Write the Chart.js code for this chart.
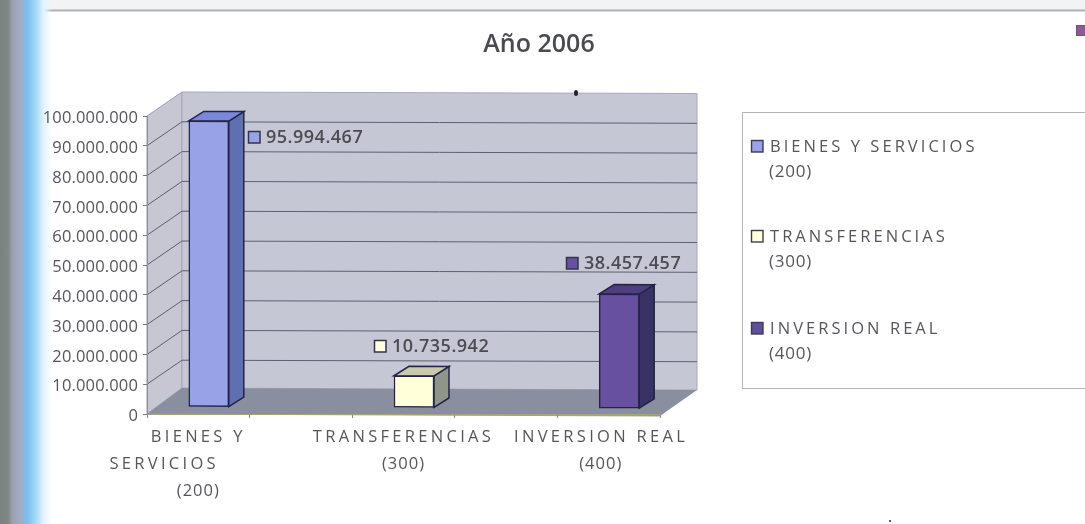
<!DOCTYPE html>
<html>
<head>
<meta charset="utf-8">
<script src="https://cdn.jsdelivr.net/npm/chart.js@4"></script>
<style>
html,body{margin:0;padding:0;width:1085px;height:524px;overflow:hidden}
body{background:
 linear-gradient(to right,#79827d 0,#7f8884 8px,#99a0ae 12px,#a2abc4 20px,#79bdf0 27px,#a5daf8 36px,#e4f5fd 44px,rgba(255,255,255,0) 52px),
 linear-gradient(to bottom,#f1f3f4 0,#f1f3f4 9px,#a9acb0 10px,#b5b7ba 11px,#fff 12px);}
canvas{display:block}
</style>
</head>
<body>
<canvas id="c" width="1085" height="524"></canvas>
<script>
const categories = ["BIENES Y SERVICIOS (200)", "", "TRANSFERENCIAS (300)", "", "INVERSION REAL (400)"];
const tickLabels = [["BIENES Y", "SERVICIOS         ", "(200)"], "", ["TRANSFERENCIAS", "(300)"], "", ["INVERSION REAL  ", "(400)   "]];
const values = [95994467, null, 10735942, null, 38457457];
const valueLabels = ["95.994.467", "", "10.735.942", "", "38.457.457"];
const yTickLabels = ["0","10.000.000","20.000.000","30.000.000","40.000.000","50.000.000","60.000.000","70.000.000","80.000.000","90.000.000","100.000.000"];
const legendNames = ["BIENES Y SERVICIOS", "TRANSFERENCIAS", "INVERSION REAL"];
const legendCodes = ["(200)", "(300)", "(400)"];
const titleText = "Año 2006";

const frontColors = ["#98a2e6", null, "#ffffd9", null, "#67509f"];
const topColors   = ["#7b87dc", null, "#c9caa9", null, "#4f3e80"];
const sideColors  = ["#5f70b2", null, "#90958a", null, "#393263"];
const legendKeyColors = ["#98a2e6", "#ffffd9", "#5f4f9a"];
const FONT = '"Open Sans", "Noto Sans", sans-serif';
const TEXT = "#55565c";
const EDGE = "#24244a";
const WALL = {dx: 35, dxRight: 37, dy: -24, tilt: 1.5};
const BAR_SHIFT = {dx: 10.5, dy: -7.2, shear: 0.004};
const DEPTH = {dx: 15, dy: -9.5};
const LABEL_POS = [{x: 248, y: 137}, null, {x: 374, y: 346}, null, {x: 566, y: 263}];

function poly(ctx, pts, fill, stroke, lw) {
  ctx.beginPath();
  pts.forEach((p, i) => i ? ctx.lineTo(p[0], p[1]) : ctx.moveTo(p[0], p[1]));
  ctx.closePath();
  if (fill) { ctx.fillStyle = fill; ctx.fill(); }
  if (stroke) { ctx.strokeStyle = stroke; ctx.lineWidth = lw || 1; ctx.stroke(); }
}

const scene = {
  id: "scene",
  afterLayout(chart) {
    const s = chart.scales.x, y = chart.scales.y, ctx = chart.ctx;
    if (!s._spaced) {
      s._spaced = true;
      const ox = s.drawLabels.bind(s), oy = y.drawLabels.bind(y);
      s.drawLabels = a => {
        const fill = ctx.fillText;
        ctx.fillText = function (t, px, py) {
          ctx.letterSpacing = t[0] === "(" ? "1px" : "3.3px";
          fill.call(ctx, t, px, py);
        };
        ox(a);
        delete ctx.fillText;
        ctx.letterSpacing = "0px";
      };
      y.drawLabels = a => {
        ctx.save();
        ctx.translate(0, 2.5);
        ctx.letterSpacing = "0.15px";
        oy(a);
        ctx.restore();
      };
    }
  },
  beforeDraw(chart) {
    const ctx = chart.ctx, a = chart.chartArea, y = chart.scales.y;
    const top = y.getPixelForValue(100000000), bot = y.getPixelForValue(0);
    const l = a.left, r = a.right, wl = l + WALL.dx, wr = r + WALL.dxRight;
    ctx.save();
    poly(ctx, [[l, top], [wl, top + WALL.dy], [wl, bot + WALL.dy - 2], [l, bot]], "#c6c7d3", "#9d9fb0", 1);
    poly(ctx, [[wl, top + WALL.dy], [wr, top + WALL.dy + WALL.tilt], [wr, bot + WALL.dy], [wl, bot + WALL.dy - 2]], "#c6c7d5", "#a5a8bd", 1);
    yTickLabels.forEach((_, i) => {
      if (i === 0 || i === 10) return;
      const py = y.getPixelForValue(i * 10000000);
      ctx.beginPath();
      ctx.moveTo(l, py); ctx.lineTo(wl, py + WALL.dy);
      ctx.lineTo(wr, py + WALL.dy + WALL.tilt);
      ctx.strokeStyle = "#5d6070"; ctx.lineWidth = 1; ctx.stroke();
    });
    poly(ctx, [[l, bot], [wl, bot + WALL.dy - 2], [wr, bot + WALL.dy], [r, bot + 2]], "#8a8f9f");
    ctx.beginPath(); ctx.moveTo(l, bot); ctx.lineTo(r, bot + 2);
    ctx.strokeStyle = "#a8a27c"; ctx.lineWidth = 1; ctx.stroke();
    ctx.restore();
  },
  beforeDatasetsDraw(chart) {
    const ctx = chart.ctx, a = chart.chartArea;
    ctx.save();
    ctx.transform(1, BAR_SHIFT.shear, 0, 1, BAR_SHIFT.dx, BAR_SHIFT.dy - a.left * BAR_SHIFT.shear);
    chart.getDatasetMeta(0).data.forEach((el, i) => {
      if (values[i] == null) return;
      const L = el.x - el.width / 2, R = el.x + el.width / 2, T = el.y, B = el.base;
      poly(ctx, [[R, T], [R + DEPTH.dx, T + DEPTH.dy], [R + DEPTH.dx, B + DEPTH.dy], [R, B]], sideColors[i], EDGE, 1.5);
      poly(ctx, [[L, T], [L + DEPTH.dx, T + DEPTH.dy], [R + DEPTH.dx, T + DEPTH.dy], [R, T]], topColors[i], EDGE, 1.5);
    });
  },
  afterDatasetsDraw(chart) {
    const ctx = chart.ctx;
    ctx.restore();
    ctx.save();
    ctx.textBaseline = "middle";
    ctx.textAlign = "left";
    // data labels
    values.forEach((v, i) => {
      if (v == null) return;
      const p = LABEL_POS[i];
      ctx.lineWidth = 1.5; ctx.strokeStyle = "#33334f"; ctx.fillStyle = frontColors[i];
      ctx.fillRect(p.x + .5, p.y - 5.5, 11.5, 11.5); ctx.strokeRect(p.x + .5, p.y - 5.5, 11.5, 11.5);
      ctx.font = "600 18px " + FONT; ctx.letterSpacing = "0.5px"; ctx.fillStyle = "#4b4c52";
      ctx.fillText(valueLabels[i], p.x + 18, p.y + 1);
    });
    // legend
    ctx.strokeStyle = "#b4b5b8"; ctx.lineWidth = 1;
    ctx.strokeRect(742.5, 112.5, 345, 276);
    const rows = [146, 236, 328];
    legendNames.forEach((n, i) => {
      const y = rows[i];
      ctx.lineWidth = 1.4; ctx.strokeStyle = "#3c3c50"; ctx.fillStyle = legendKeyColors[i];
      ctx.fillRect(751.5, y - 5.5, 11.5, 11.5); ctx.strokeRect(751.5, y - 5.5, 11.5, 11.5);
      ctx.fillStyle = TEXT;
      ctx.font = "400 16.5px " + FONT; ctx.letterSpacing = "3.05px";
      ctx.fillText(n, 770, y + 1.5);
      ctx.font = "400 17px " + FONT; ctx.letterSpacing = "0.8px";
      ctx.fillText(legendCodes[i], 769, y + 26.5);
    });
    ctx.letterSpacing = "0px";
    // stray scan marks
    ctx.fillStyle = "#8d5a92"; ctx.strokeStyle = "#6a5a6a"; ctx.lineWidth = 1;
    ctx.fillRect(1076, 25, 10, 11); ctx.strokeRect(1076.5, 25.5, 10, 10);
    ctx.fillStyle = "#222";
    ctx.beginPath(); ctx.ellipse(576, 93, 2, 3, 0, 0, 7); ctx.fill();
    ctx.beginPath(); ctx.arc(890, 521, 1, 0, 7); ctx.fill();
    ctx.restore();
  }
};

new Chart(document.getElementById("c"), {
  type: "bar",
  data: {
    labels: categories,
    datasets: [{
      data: values,
      backgroundColor: frontColors,
      borderColor: EDGE,
      borderWidth: 1.5,
      borderSkipped: false,
      barThickness: 40,
      clip: false
    }]
  },
  plugins: [scene],
  options: {
    responsive: false,
    animation: false,
    events: [],
    layout: {padding: {left: 0, top: 0, bottom: 0, right: 7}},
    plugins: {
      legend: {display: false},
      tooltip: {enabled: false},
      title: {
        display: true,
        text: titleText,
        color: "#4a4b50",
        font: {family: FONT, size: 25, weight: "600", lineHeight: 1.2},
        padding: {top: 30, bottom: 56}
      }
    },
    scales: {
      x: {
        offset: true,
        afterFit: s => { s.height = 110; },
        grid: {drawOnChartArea: false, drawTicks: true, tickLength: 4, color: "#8d8d80", offset: true},
        border: {color: "#a8a27c"},
        ticks: {
          autoSkip: false, maxRotation: 0, minRotation: 0, padding: 6,
          color: TEXT,
          font: {family: FONT, size: 16.5, lineHeight: 1.636},
          callback: (v, i) => tickLabels[i]
        }
      },
      y: {
        min: 0, max: 100000000,
        afterFit: s => { s.width = 147; },
        grid: {drawOnChartArea: false, tickLength: 4, color: "#77787f"},
        border: {color: "#8b8d9a"},
        ticks: {
          stepSize: 10000000, padding: 5, color: TEXT,
          font: {family: FONT, size: 16.5},
          callback: (v, i) => yTickLabels[i]
        }
      },
      spacer: {
        position: "right",
        display: true,
        afterFit: s => { s.width = 418; },
        grid: {display: false},
        border: {display: false},
        ticks: {display: false}
      }
    }
  }
});
</script>
</body>
</html>
